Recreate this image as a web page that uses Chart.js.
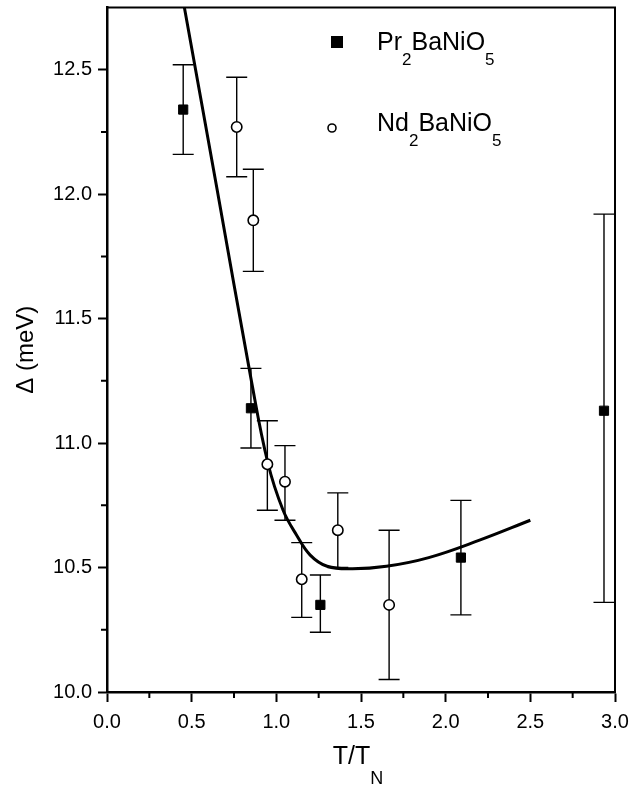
<!DOCTYPE html>
<html>
<head>
<meta charset="utf-8">
<script src="https://cdn.jsdelivr.net/npm/chart.js@4.4.1/dist/chart.umd.min.js"></script>
<style>
html, body { margin: 0; padding: 0; background: #fff; }
#wrap { position: relative; width: 630px; height: 788px; }
</style>
</head>
<body>
<div id="wrap"><canvas id="chart" width="630" height="788"></canvas></div>
<script>
// Pr2BaNiO5 (filled squares)
const prX  = [0.45, 0.85, 1.26, 2.09, 2.935];
const prY  = [12.34, 11.14, 10.35, 10.54, 11.13];
const prLo = [12.16, 10.98, 10.24, 10.31, 10.36];
const prHi = [12.52, 11.30, 10.47, 10.77, 11.92];

// Nd2BaNiO5 (open circles)
const ndX  = [0.766, 0.864, 0.947, 1.051, 1.15, 1.363, 1.666];
const ndY  = [12.27, 11.895, 10.915, 10.845, 10.453, 10.65, 10.35];
const ndLo = [12.07, 11.69, 10.73, 10.69, 10.30, 10.50, 10.05];
const ndHi = [12.47, 12.10, 11.09, 10.99, 10.60, 10.80, 10.65];

// fitted curve
const fitX = [0.457, 0.65, 0.85, 0.95, 1.04, 1.12, 1.20, 1.30, 1.45, 1.65, 1.9, 2.2, 2.5];
const fitY = [12.75, 12.02, 11.26, 10.92, 10.73, 10.63, 10.55, 10.505, 10.495, 10.505, 10.54, 10.61, 10.69];

// axes
const xMin = 0, xMax = 3, xStep = 0.5;
const yMin = 10, yMax = 12.75, yStep = 0.5;

const FONT = '"Liberation Sans", Arial, Helvetica, sans-serif';

function pts(xs, ys) {
    return xs.map((v, i) => ({ x: v, y: ys[i] }));
}

// text with subscripts: parts = [[text, isSub], ...]
function partsWidth(ctx, parts, size, subSize) {
    let w = 0;
    parts.forEach(p => {
        ctx.font = (p[1] ? subSize : size) + 'px ' + FONT;
        w += ctx.measureText(p[0]).width;
    });
    return w;
}
function drawParts(ctx, parts, x, y, size, subSize, drop) {
    parts.forEach(p => {
        ctx.font = (p[1] ? subSize : size) + 'px ' + FONT;
        ctx.fillText(p[0], x, p[1] ? y + drop : y);
        x += ctx.measureText(p[0]).width;
    });
}

const extras = {
    id: 'extras',
    beforeDatasetsDraw(chart) {
        const { ctx, scales: { x, y } } = chart;
        ctx.save();
        ctx.strokeStyle = '#000';
        ctx.lineWidth = 1.4;
        const cap = 10.5;
        function bars(xs, lo, hi) {
            xs.forEach((v, i) => {
                const px = x.getPixelForValue(v);
                const top = y.getPixelForValue(hi[i]);
                const bot = y.getPixelForValue(lo[i]);
                ctx.beginPath();
                ctx.moveTo(px, top); ctx.lineTo(px, bot);
                ctx.moveTo(px - cap, top); ctx.lineTo(px + cap, top);
                ctx.moveTo(px - cap, bot); ctx.lineTo(px + cap, bot);
                ctx.stroke();
            });
        }
        bars(prX, prLo, prHi);
        bars(ndX, ndLo, ndHi);
        ctx.restore();
    },
    afterDraw(chart) {
        const { ctx, chartArea: a, scales: { x, y } } = chart;
        ctx.save();
        ctx.strokeStyle = '#000';

        // top and right frame
        ctx.lineWidth = 2;
        ctx.beginPath();
        ctx.moveTo(a.left, a.top); ctx.lineTo(a.right, a.top); ctx.lineTo(a.right, a.bottom);
        ctx.stroke();

        // minor ticks
        ctx.lineWidth = 2;
        ctx.beginPath();
        for (let v = xMin + xStep / 2; v < xMax; v += xStep) {
            const px = x.getPixelForValue(v);
            ctx.moveTo(px, a.bottom); ctx.lineTo(px, a.bottom + 6);
        }
        for (let v = yMin + yStep / 2; v < yMax; v += yStep) {
            const py = y.getPixelForValue(v);
            ctx.moveTo(a.left, py); ctx.lineTo(a.left - 6, py);
        }
        ctx.stroke();

        ctx.fillStyle = '#000';
        ctx.textBaseline = 'alphabetic';
        ctx.textAlign = 'left';

        // legend
        ctx.fillRect(331, 36, 12, 12);
        ctx.lineWidth = 1.6;
        ctx.beginPath();
        ctx.arc(332, 128, 4, 0, Math.PI * 2);
        ctx.stroke();
        drawParts(ctx, [['Pr', false], ['2', true], ['BaNiO', false], ['5', true]], 377, 50, 25, 17, 15);
        drawParts(ctx, [['Nd', false], ['2', true], ['BaNiO', false], ['5', true]], 377, 131, 25, 17, 15);

        // x-axis title
        const xt = [['T/T', false], ['N', true]];
        const w = partsWidth(ctx, xt, 25, 18);
        const cx = (a.left + a.right) / 2 - 3;
        drawParts(ctx, xt, cx - w / 2, 764, 25, 18, 20);

        ctx.restore();
    }
};

new Chart(document.getElementById('chart'), {
    type: 'scatter',
    data: {
        datasets: [
            {
                label: 'Pr2BaNiO5',
                data: pts(prX, prY),
                pointStyle: 'rect',
                pointRadius: 6.5,
                pointBackgroundColor: '#000',
                pointBorderColor: '#000',
                pointBorderWidth: 1,
                showLine: false
            },
            {
                label: 'Nd2BaNiO5',
                data: pts(ndX, ndY),
                pointStyle: 'circle',
                pointRadius: 5.2,
                pointBackgroundColor: '#fff',
                pointBorderColor: '#000',
                pointBorderWidth: 1.6,
                showLine: false
            },
            {
                label: 'fit',
                data: pts(fitX, fitY),
                showLine: true,
                borderColor: '#000',
                borderWidth: 3,
                pointRadius: 0,
                tension: 0.4,
                fill: false
            }
        ]
    },
    options: {
        responsive: false,
        animation: false,
        layout: { padding: { left: 0, right: 15, top: 6, bottom: 0 } },
        plugins: {
            legend: { display: false },
            tooltip: { enabled: false }
        },
        scales: {
            x: {
                type: 'linear',
                min: xMin,
                max: xMax,
                border: { display: true, color: '#000', width: 2.5 },
                grid: { drawOnChartArea: false, drawTicks: true, tickLength: 10, tickWidth: 2, tickColor: '#000' },
                ticks: {
                    stepSize: xStep,
                    color: '#000',
                    padding: 8,
                    maxRotation: 0,
                    font: { family: FONT, size: 20 },
                    callback: v => Number(v).toFixed(1)
                },
                afterFit: s => { s.height = 96; s.paddingLeft = 0; s.paddingRight = 0; }
            },
            y: {
                type: 'linear',
                min: yMin,
                max: yMax,
                border: { display: true, color: '#000', width: 2.5 },
                grid: { drawOnChartArea: false, drawTicks: true, tickLength: 9, tickWidth: 2, tickColor: '#000' },
                ticks: {
                    stepSize: yStep,
                    color: '#000',
                    padding: 6,
                    font: { family: FONT, size: 20 },
                    callback: v => Number(v).toFixed(1)
                },
                afterBuildTicks: s => {
                    s.ticks = s.ticks.filter(t => Math.abs(t.value / yStep - Math.round(t.value / yStep)) < 1e-6);
                },
                title: {
                    display: true,
                    text: 'Δ (meV)',
                    color: '#000',
                    font: { family: FONT, size: 24 },
                    padding: { top: 12, bottom: 0 }
                },
                afterFit: s => { s.width = 107; s.paddingTop = 0; s.paddingBottom = 0; }
            }
        }
    },
    plugins: [extras]
});
</script>
</body>
</html>
